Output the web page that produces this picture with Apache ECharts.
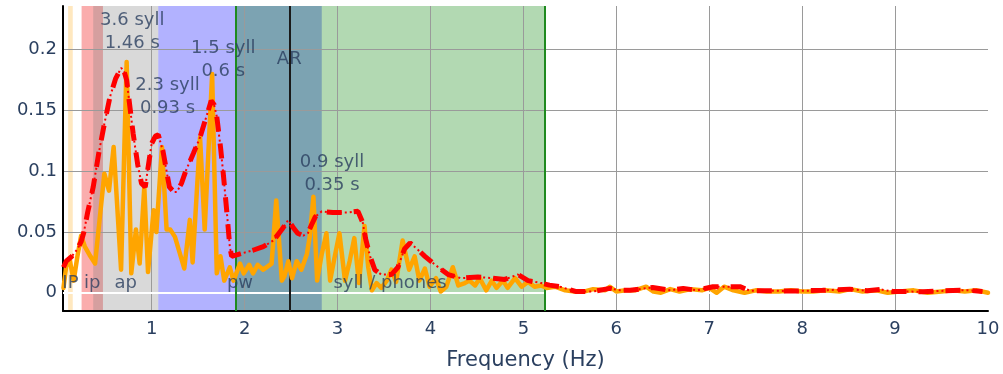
<!DOCTYPE html>
<html><head><meta charset="utf-8">
<script src="https://cdn.jsdelivr.net/npm/echarts@6/dist/echarts.min.js"></script>
<style>html,body{margin:0;padding:0;background:#fff}#c{width:1003px;height:374px}</style>
</head><body><div id="c"></div>
<script>
// Spectrum (orange): [frequency Hz, amplitude]
const spectrum = [
[0.05,0.004],[0.08,0.022],[0.12,0.026],[0.16,0.010],[0.20,0.030],[0.24,0.047],[0.28,0.038],[0.34,0.030],[0.39,0.024],
[0.49,0.098],[0.54,0.084],[0.59,0.120],[0.67,0.019],[0.73,0.190],[0.78,0.016],[0.83,0.052],[0.87,0.024],[0.92,0.087],
[0.96,0.017],[1.02,0.068],[1.05,0.050],[1.11,0.120],[1.16,0.052],[1.20,0.052],[1.25,0.046],[1.30,0.033],[1.35,0.020],
[1.41,0.060],[1.44,0.025],[1.52,0.128],[1.57,0.052],[1.65,0.180],[1.70,0.016],[1.74,0.030],[1.78,0.010],[1.84,0.021],
[1.88,0.010],[1.95,0.024],[1.99,0.016],[2.05,0.023],[2.09,0.016],[2.14,0.023],[2.20,0.019],[2.29,0.024],[2.34,0.076],
[2.40,0.010],[2.43,0.014],[2.47,0.026],[2.51,0.012],[2.56,0.026],[2.61,0.019],[2.67,0.032],[2.70,0.046],[2.74,0.079],
[2.78,0.010],[2.83,0.032],[2.88,0.049],[2.92,0.010],[2.97,0.030],[3.02,0.049],[3.08,0.010],[3.13,0.026],[3.18,0.045],
[3.23,0.008],[3.29,0.055],[3.33,0.021],[3.37,0.002],[3.42,0.008],[3.47,0.004],[3.53,0.010],[3.58,0.019],[3.63,0.009],
[3.70,0.043],[3.77,0.019],[3.83,0.030],[3.88,0.010],[3.94,0.020],[3.99,0.005],[4.06,0.012],[4.11,0.001],[4.17,0.005],
[4.24,0.021],[4.30,0.006],[4.37,0.008],[4.42,0.010],[4.48,0.006],[4.53,0.012],[4.60,0.002],[4.66,0.010],[4.71,0.004],
[4.78,0.010],[4.83,0.004],[4.91,0.012],[4.98,0.005],[5.05,0.009],[5.12,0.005],[5.19,0.006],[5.25,0.004],[5.34,0.005],
[5.45,0.002],[5.55,0.001],[5.65,0.001],[5.75,0.003],[5.88,0.002],[5.93,0.005],[6.00,0.001],[6.10,0.002],[6.20,0.002],
[6.32,0.005],[6.40,0.001],[6.48,0.000],[6.58,0.003],[6.68,0.001],[6.80,0.003],[6.92,0.002],[7.00,0.004],[7.08,0.000],
[7.16,0.005],[7.26,0.002],[7.38,0.000],[7.50,0.002],[7.62,0.001],[7.75,0.001],[7.88,0.002],[8.00,0.001],[8.12,0.001],
[8.25,0.002],[8.40,0.001],[8.52,0.003],[8.65,0.001],[8.80,0.002],[8.92,0.000],[9.05,0.001],[9.20,0.002],[9.35,0.000],
[9.50,0.001],[9.62,0.002],[9.75,0.001],[9.88,0.002],[10.0,0.000]
];
// Smoothed envelope (red dashed): [frequency Hz, amplitude]
const envelope = [
[0.05,0.021],[0.08,0.026],[0.14,0.030],[0.20,0.036],[0.24,0.042],[0.27,0.050],[0.31,0.066],[0.37,0.087],[0.43,0.115],
[0.49,0.139],[0.55,0.161],[0.61,0.176],[0.67,0.185],[0.70,0.183],[0.73,0.175],[0.80,0.131],[0.85,0.105],[0.89,0.090],
[0.93,0.087],[0.97,0.108],[1.00,0.123],[1.04,0.129],[1.07,0.130],[1.12,0.117],[1.16,0.100],[1.19,0.087],[1.24,0.083],
[1.27,0.083],[1.32,0.090],[1.37,0.101],[1.45,0.115],[1.52,0.128],[1.58,0.143],[1.64,0.158],[1.67,0.155],[1.70,0.145],
[1.74,0.120],[1.77,0.098],[1.81,0.065],[1.84,0.038],[1.86,0.030],[1.95,0.032],[2.09,0.035],[2.20,0.038],[2.31,0.043],
[2.40,0.052],[2.47,0.060],[2.52,0.054],[2.57,0.049],[2.63,0.047],[2.68,0.049],[2.72,0.056],[2.76,0.0625],[2.83,0.067],
[2.95,0.066],[3.10,0.066],[3.22,0.067],[3.27,0.058],[3.30,0.045],[3.35,0.030],[3.40,0.019],[3.47,0.015],[3.58,0.015],
[3.65,0.021],[3.72,0.036],[3.78,0.041],[3.87,0.035],[3.94,0.030],[4.05,0.023],[4.19,0.015],[4.33,0.012],[4.51,0.013],
[4.66,0.012],[4.80,0.011],[4.94,0.015],[5.05,0.010],[5.19,0.008],[5.28,0.0063],[5.39,0.005],[5.57,0.001],[5.75,0.001],
[5.93,0.0036],[6.04,0.002],[6.15,0.002],[6.39,0.0044],[6.58,0.002],[6.72,0.0036],[6.87,0.002],[7.04,0.005],[7.19,0.005],
[7.33,0.005],[7.44,0.0017],[7.65,0.0017],[7.90,0.0014],[8.05,0.0017],[8.22,0.002],[8.51,0.003],[8.70,0.0017],
[8.84,0.0028],[8.98,0.001],[9.13,0.001],[9.30,0.0008],[9.45,0.0014],[9.70,0.002],[9.80,0.002],[9.94,0.001]
];
// Prosodic bands
const bandLabels = ['IP', 'ip', 'ap', 'pw', 'syll / phones'];
const bandStart  = [0.10, 0.245, 0.37, 1.07, 1.90];
const bandEnd    = [0.15, 0.475, 1.07, 2.83, 5.23];
const bandLabelY = 0.008;
const arFreq = 2.48;
// Annotations
const annoText = ['3.6 syll\n1.46 s', '2.3 syll\n0.93 s', '1.5 syll\n0.6 s', 'AR', '0.9 syll\n0.35 s'];
const annoX = [0.79, 1.17, 1.77, 2.48, 2.94];
const annoY = [0.2148, 0.161, 0.1917, 0.1921, 0.098];
// Axis
const xMin = 0.045, xMax = 10, yMin = -0.015, yMax = 0.236;

const FONT = 'DejaVu Sans';
const TXT = '#2a3f5f';
const bandColors = ['rgba(255,165,0,0.25)', 'rgba(240,0,0,0.32)', 'rgba(128,128,128,0.3)', 'rgba(0,0,255,0.3)', 'rgba(0,128,0,0.3)'];

const chart = echarts.init(document.getElementById('c'), null, {renderer: 'canvas'});
const isMult = (v, s) => Math.abs(v / s - Math.round(v / s)) < 1e-6;

chart.setOption({
  animation: false,
  backgroundColor: '#fff',
  grid: {left: 63, right: 15, top: 6, bottom: 63, containLabel: false, outerBoundsMode: 'none'},
  xAxis: {
    type: 'value', min: xMin, max: xMax, splitNumber: 10, minInterval: 1, maxInterval: 1, z: 3,
    axisLine: {onZero: false, lineStyle: {color: '#000', width: 2}},
    axisTick: {show: false},
    axisLabel: {fontSize: 18, color: TXT, fontFamily: FONT, margin: 9,
      formatter: v => isMult(v, 1) ? String(Math.round(v)) : ''},
    splitLine: {show: true, showMinLine: false, showMaxLine: false, lineStyle: {color: '#9a9a9a', width: 1}},
    name: 'Frequency (Hz)', nameLocation: 'middle', nameGap: 39,
    nameTextStyle: {fontSize: 21, color: TXT, fontFamily: FONT}
  },
  yAxis: {
    type: 'value', min: yMin, max: yMax, splitNumber: 5, minInterval: 0.05, maxInterval: 0.05, z: 3,
    axisLine: {show: true, onZero: false, lineStyle: {color: '#000', width: 2}},
    axisTick: {show: false},
    axisLabel: {fontSize: 18, color: TXT, fontFamily: FONT, margin: 6,
      formatter: v => isMult(v, 0.05) ? String(+v.toFixed(3)) : ''},
    splitLine: {show: true, showMinLine: false, showMaxLine: false, lineStyle: {color: '#9a9a9a', width: 1}}
  },
  series: [
    {
      type: 'line', data: [], z: 1, silent: true,
      markArea: {silent: true, data: bandLabels.map((n, i) => [
        {xAxis: bandStart[i], itemStyle: {color: bandColors[i]}},
        {xAxis: bandEnd[i]}
      ])}
    },
    {
      type: 'line', data: [], z: 4, silent: true,
      markLine: {silent: true, symbol: 'none', label: {show: false}, data: [
        {yAxis: 0, lineStyle: {color: '#fff', width: 2, type: 'solid'}},
        {xAxis: bandStart[4], lineStyle: {color: '#1f8a1f', width: 2, type: 'solid'}},
        {xAxis: bandEnd[4], lineStyle: {color: '#1f8a1f', width: 2, type: 'solid'}},
        {xAxis: arFreq, lineStyle: {color: '#1a1a1a', width: 2, type: 'solid'}}
      ]}
    },
    {
      type: 'line', data: spectrum, z: 5, symbol: 'none', silent: true,
      lineStyle: {color: '#ffa500', width: 4.5, join: 'round', cap: 'round'}
    },
    {
      type: 'line', data: envelope, z: 6, symbol: 'none', silent: true,
      lineStyle: {color: '#ff0000', width: 2, type: [2, 3]}
    },
    {
      type: 'line', data: envelope, z: 7, symbol: 'none', silent: true,
      lineStyle: {color: '#ff0000', width: 5, type: [15, 12]}
    },
    {
      type: 'scatter', z: 8, silent: true, symbolSize: 1, itemStyle: {color: 'rgba(0,0,0,0)'},
      data: annoText.map((t, i) => ({name: t, value: [annoX[i], annoY[i]]})),
      label: {show: true, position: 'inside', formatter: p => p.name, fontSize: 18, lineHeight: 23,
        color: TXT, fontFamily: FONT, align: 'center', verticalAlign: 'middle'}
    },
    {
      type: 'scatter', z: 8, silent: true, symbolSize: 1, itemStyle: {color: 'rgba(0,0,0,0)'},
      data: bandLabels.map((t, i) => ({name: t, value: [(bandStart[i] + bandEnd[i]) / 2, bandLabelY]})),
      label: {show: true, position: 'inside', formatter: p => p.name, fontSize: 18,
        color: TXT, fontFamily: FONT, align: 'center', verticalAlign: 'middle'}
    }
  ]
});
</script></body></html>
